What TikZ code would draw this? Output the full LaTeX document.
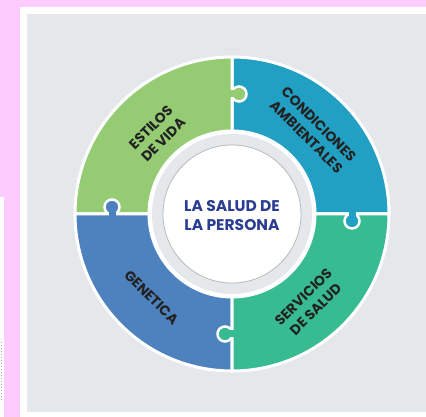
\documentclass[tikz,border=0pt]{standalone}
\usepackage{fontspec}
\setmainfont{Poppins}
\usetikzlibrary{positioning}

\definecolor{pinkbg}{HTML}{FDCBFD}
\definecolor{panelgray}{HTML}{E4E8EB}
\definecolor{estilosgreen}{HTML}{94CB73}
\definecolor{condteal}{HTML}{22A0C3}
\definecolor{servgreen}{HTML}{37BC92}
\definecolor{genblue}{HTML}{4E82BE}
\definecolor{saludnavy}{HTML}{2A3D92}
\definecolor{labeldark}{HTML}{222222}

\begin{document}
\begin{tikzpicture}[
  x=1pt, y=1pt,
  sector/.style={draw=white, line width=3pt},
  knob/.style={draw=white, line width=2.5pt},
  lbl/.style={font=\bfseries\fontsize{14}{17.5}\selectfont, text=labeldark, align=center, inner sep=0pt},
  hub/.style={font=\bfseries\fontsize{15.5}{18.5}\selectfont, text=saludnavy, align=center}]

  \useasboundingbox (0,0) rectangle (426,417);
  \fill[pinkbg] (0,0) rectangle (426,417);
  \fill[white] (0,0) rectangle (4,220);
  \draw[gray!60, dotted, line width=1pt] (1,17) -- (1,77);
  \fill[white] (20,0) rectangle (426,410);
  \fill[panelgray] (27,4.5) rectangle (426,402.5);

  \coordinate (c) at (232,203);

  % ring pieces
  \foreach \a/\col in {0/condteal, 90/estilosgreen, 180/genblue, 270/servgreen}
    \filldraw[sector, fill=\col] ([shift={(\a:157)}]c) arc (\a:\a+90:157)
      -- ([shift={(\a+90:83)}]c) arc (\a+90:\a:83) -- cycle;

  % puzzle knobs
  \foreach \a/\col in {0/condteal, 90/estilosgreen, 180/genblue, 270/servgreen}{
    \begin{scope}[shift={(c)}, rotate=\a]
      \filldraw[knob, fill=\col] (120,-7) circle (7.5);
      \fill[\col] (116.5,-7) rectangle (123.5,2);
    \end{scope}
  }

  % hub
  \fill[white] (c) circle (83);
  \fill[panelgray] (c) circle (80);
  \filldraw[fill=white, draw=gray!55, line width=0.8pt] (c) circle (69);

  \node[hub] (salud) at ([yshift=-1.5]c) {LA SALUD DE\\LA PERSONA};
  \node[lbl, rotate=45] (estilos) at ([shift={(133:110)}]c) {ESTILOS\\DE VIDA};
  \node[lbl, rotate=-45] (condiciones) at ([shift={(46:116)}]c) {CONDICIONES\\AMBIENTALES};
  \node[lbl, rotate=-45] (genetica) at ([shift={(226:116)}]c) {GENETICA};
  \node[lbl, rotate=45] (servicios) at ([shift={(311:118)}]c) {SERVICIOS\\DE SALUD};
\end{tikzpicture}
\end{document}
